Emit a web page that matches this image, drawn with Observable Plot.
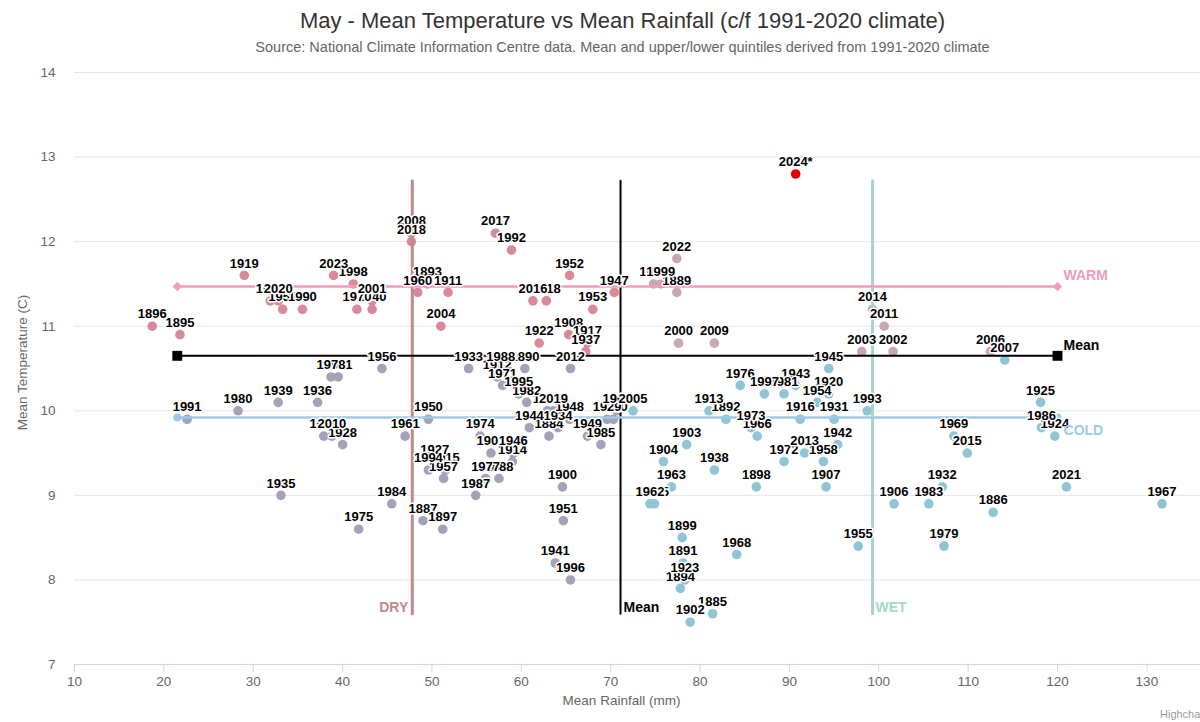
<!DOCTYPE html>
<html>
<head>
<meta charset="utf-8">
<script src="https://cdn.jsdelivr.net/npm/d3@7"></script>
<script src="https://cdn.jsdelivr.net/npm/@observablehq/plot@0.6"></script>
<style>
  html, body { margin: 0; padding: 0; background: #fff; }
  body { width: 1200px; height: 722px; overflow: hidden; position: relative; font-family: "Liberation Sans", Arial, sans-serif; }
  #title { position: absolute; left: 0; top: 8px; width: 1245px; text-align: center; font-size: 22px; color: #333; white-space: nowrap; }
  #subtitle { position: absolute; left: 0; top: 39px; width: 1245px; text-align: center; font-size: 14.5px; color: #666; white-space: nowrap; }
  #chart { position: absolute; left: 0; top: 62px; }
  #credit { position: absolute; left: 1160px; top: 708px; font-size: 11px; color: #999; white-space: nowrap; }
</style>
</head>
<body>
<div id="title">May - Mean Temperature vs Mean Rainfall (c/f 1991-2020 climate)</div>
<div id="subtitle">Source: National Climate Information Centre data. Mean and upper/lower quintiles derived from 1991-2020 climate</div>
<div id="chart"></div>
<div id="credit">Highcharts.com</div>
<script>
// ---- Data ----
const years = [
  1884,1885,1886,1887,1888,1889,1890,1891,1892,1893,1894,1895,1896,1897,1898,1899,
  1900,1901,1902,1903,1904,1905,1906,1907,1908,1909,1910,1911,1912,1913,1914,1915,
  1916,1917,1918,1919,1920,1921,1922,1923,1924,1925,1926,1927,1928,1929,1930,1931,
  1932,1933,1934,1935,1936,1937,1938,1939,1940,1941,1942,1943,1944,1945,1946,1947,
  1948,1949,1950,1951,1952,1953,1954,1955,1956,1957,1958,1959,1960,1961,1962,1963,
  1964,1965,1966,1967,1968,1969,1970,1971,1972,1973,1974,1975,1976,1977,1978,1979,
  1980,1981,1982,1983,1984,1985,1986,1987,1988,1990,1991,1992,1993,1994,1995,1996,
  1997,1998,1999,2000,2001,2002,2003,2004,2005,2006,2007,2008,2009,2010,2011,2012,
  2013,2014,2015,2016,2017,2018,2019,2020,2021,2022,2023,2024
];
const rainfall = [
  63.1,81.4,112.8,49.0,57.5,77.4,60.4,78.1,82.9,49.5,77.8,21.8,18.7,51.2,86.3,78.0,
  64.6,56.6,78.9,78.5,75.9,74.9,101.7,94.1,65.3,62.9,70.3,51.8,57.3,81.0,59.0,51.5,
  91.2,67.4,62.8,29.0,94.4,39.5,62.0,78.3,119.7,118.1,37.9,50.3,40.0,69.6,31.9,95.0,
  107.1,54.1,64.1,33.1,37.2,67.2,81.6,32.8,43.3,63.8,95.4,90.7,60.9,94.4,59.1,70.4,
  65.4,67.4,49.6,64.7,65.4,68.0,93.1,97.7,44.4,51.3,93.8,33.3,48.4,47.0,74.4,76.8,
  70.7,74.8,86.4,131.7,84.1,108.4,41.6,57.9,89.4,85.7,55.4,41.8,84.5,56.0,38.7,107.3,
  28.3,89.4,60.6,105.6,45.5,68.9,118.2,54.9,57.7,35.5,22.6,58.9,98.7,49.6,59.7,65.5,
  87.2,41.2,75.6,77.6,43.3,101.6,98.1,51.0,72.5,112.5,114.1,47.7,81.6,38.8,100.6,65.5,
  91.7,99.3,109.9,61.3,57.1,47.7,63.6,32.8,121.0,77.4,39.0,90.7
];
const temperature = [
  9.7,7.6,8.8,8.7,9.2,11.4,10.5,8.2,9.9,11.5,7.9,10.9,11.0,8.6,9.1,8.5,
  9.1,9.5,7.5,9.6,9.4,8.9,8.9,9.1,10.9,10.0,9.9,11.4,10.4,10.0,9.4,9.3,
  9.9,10.8,11.3,11.6,10.2,10.4,10.8,8.0,9.7,10.1,9.7,9.4,9.6,9.9,11.3,9.9,
  9.1,10.5,9.8,9.0,10.1,10.7,9.3,10.1,11.2,8.2,9.6,10.3,9.8,10.5,9.5,11.4,
  9.9,9.7,9.9,8.7,11.6,11.2,10.1,8.4,10.5,9.2,9.4,11.2,11.4,9.7,8.9,9.1,
  10.0,11.5,9.7,8.9,8.3,9.7,11.2,10.3,9.4,9.8,9.7,8.6,10.3,9.2,10.4,8.4,
  10.0,10.2,10.1,8.9,8.9,9.6,9.8,9.0,10.5,11.2,9.9,11.9,10.0,9.3,10.2,8.0,
  10.2,11.5,11.5,10.8,11.3,10.7,10.7,11.0,10.0,10.7,10.6,12.1,10.8,9.7,11.0,10.5,
  9.5,11.2,9.5,11.3,12.1,12.0,10.0,11.3,9.1,11.8,11.6,12.8
];
const provisionalYear = 2024;

// Reference lines (1991-2020 climate)
const meanRain = 71.1, dryRain = 47.8, wetRain = 99.3;
const meanTemp = 10.65, warmTemp = 11.47, coldTemp = 9.92;
const hLineRainExtent = [21.5, 120];
const vLineTempExtent = [7.6, 12.72];

const xTicks = [10,20,30,40,50,60,70,80,90,100,110,120,130];
const yTicks = [7,8,9,10,11,12,13,14];

// ---- Build ----
const data = years.map((year, i) => ({
  year, rain: rainfall[i], temp: temperature[i],
  label: year === provisionalYear ? year + "*" : String(year)
}));

const colorFor = d =>
  d.year === provisionalYear ? "#e60000" :
  d.temp >= meanTemp ? (d.rain < meanRain ? "#d98a98" : "#c9a8b0")
                     : (d.rain < meanRain ? "#a4a2b8" : "#8fc5d6");

const hLine = v => hLineRainExtent.map(x => ({x, y: v}));
const vLine = v => vLineTempExtent.map(y => ({x: v, y}));

const black = "#000", warmC = "#f09cbd", coldC = "#9ccaea", dryC = "#c08a8b", wetC = "#a3d8c6";

const chart = Plot.plot({
  width: 1200,
  height: 660,
  marginLeft: 74,
  marginRight: 0,
  marginTop: 10,
  marginBottom: 58,
  x: {domain: [10, 136]},
  y: {domain: [7, 14]},
  color: {type: "identity"},
  style: {fontFamily: '"Liberation Sans", Arial, sans-serif', fontSize: "13px", background: "#fff", color: "#666", overflow: "visible"},
  marks: [
    Plot.ruleY(yTicks.filter(t => t > 7), {stroke: "#e6e6e6"}),
    Plot.ruleY([7], {stroke: "#ccd6eb"}),
    Plot.axisX({ticks: xTicks, tickFormat: d => String(d), tickSize: 8, tickPadding: 4, stroke: "#ccd6eb", fill: "#666", label: null, fontSize: 13.5}),
    Plot.axisY({ticks: yTicks, tickFormat: d => String(d), tickSize: 0, tickPadding: 19, fill: "#666", label: null, fontSize: 13.5}),
    Plot.text(["Mean Temperature (C)"], {text: d => d, frameAnchor: "left", textAnchor: "middle", rotate: -90, dx: -52, dy: -6, fill: "#666", fontSize: 13.5}),
    Plot.text(["Mean Rainfall (mm)"], {text: d => d, frameAnchor: "bottom", textAnchor: "middle", dx: -16, dy: 40, fill: "#666", fontSize: 13.5}),

    // scatter points
    Plot.dot(data, {x: "rain", y: "temp", r: 4.8, fill: colorFor, stroke: null}),

    // reference lines
    Plot.line(vLine(dryRain), {x: "x", y: "y", stroke: dryC, strokeWidth: 3}),
    Plot.line(vLine(wetRain), {x: "x", y: "y", stroke: wetC, strokeWidth: 3}),
    Plot.line(vLine(meanRain), {x: "x", y: "y", stroke: black, strokeWidth: 2}),
    Plot.line(hLine(warmTemp), {x: "x", y: "y", stroke: warmC, strokeWidth: 2.5}),
    Plot.line(hLine(coldTemp), {x: "x", y: "y", stroke: coldC, strokeWidth: 2.5}),
    Plot.line(hLine(meanTemp), {x: "x", y: "y", stroke: black, strokeWidth: 2}),
    Plot.dot(hLine(warmTemp), {x: "x", y: "y", symbol: "diamond2", r: 4.2, fill: warmC}),
    Plot.dot(hLine(coldTemp), {x: "x", y: "y", symbol: "circle", r: 4, fill: coldC}),
    Plot.dot(hLine(meanTemp), {x: "x", y: "y", symbol: "square", r: 5.6, fill: black}),

    // year labels
    Plot.text(data, {x: "rain", y: "temp", text: "label", dy: -12, fill: "#000", fontWeight: "bold", fontSize: 13,
      stroke: "#fff", strokeWidth: 3, paintOrder: "stroke"}),

    // series labels
    Plot.text([{x: hLineRainExtent[1], y: meanTemp}], {x: "x", y: "y", text: () => "Mean", dx: 6, dy: -10, textAnchor: "start", fill: black, fontWeight: "bold", fontSize: 14}),
    Plot.text([{x: hLineRainExtent[1], y: warmTemp}], {x: "x", y: "y", text: () => "WARM", dx: 6, dy: -11, textAnchor: "start", fill: warmC, fontWeight: "bold", fontSize: 14}),
    Plot.text([{x: hLineRainExtent[1], y: coldTemp}], {x: "x", y: "y", text: () => "COLD", dx: 6, dy: 13, textAnchor: "start", fill: coldC, fontWeight: "bold", fontSize: 14}),
    Plot.text([{x: meanRain, y: vLineTempExtent[0]}], {x: "x", y: "y", text: () => "Mean", dx: 3, dy: -6, textAnchor: "start", fill: black, fontWeight: "bold", fontSize: 14}),
    Plot.text([{x: dryRain, y: vLineTempExtent[0]}], {x: "x", y: "y", text: () => "DRY", dx: -4, dy: -6, textAnchor: "end", fill: dryC, fontWeight: "bold", fontSize: 14}),
    Plot.text([{x: wetRain, y: vLineTempExtent[0]}], {x: "x", y: "y", text: () => "WET", dx: 3, dy: -6, textAnchor: "start", fill: wetC, fontWeight: "bold", fontSize: 14})
  ]
});
document.getElementById("chart").appendChild(chart);
</script>
</body>
</html>
